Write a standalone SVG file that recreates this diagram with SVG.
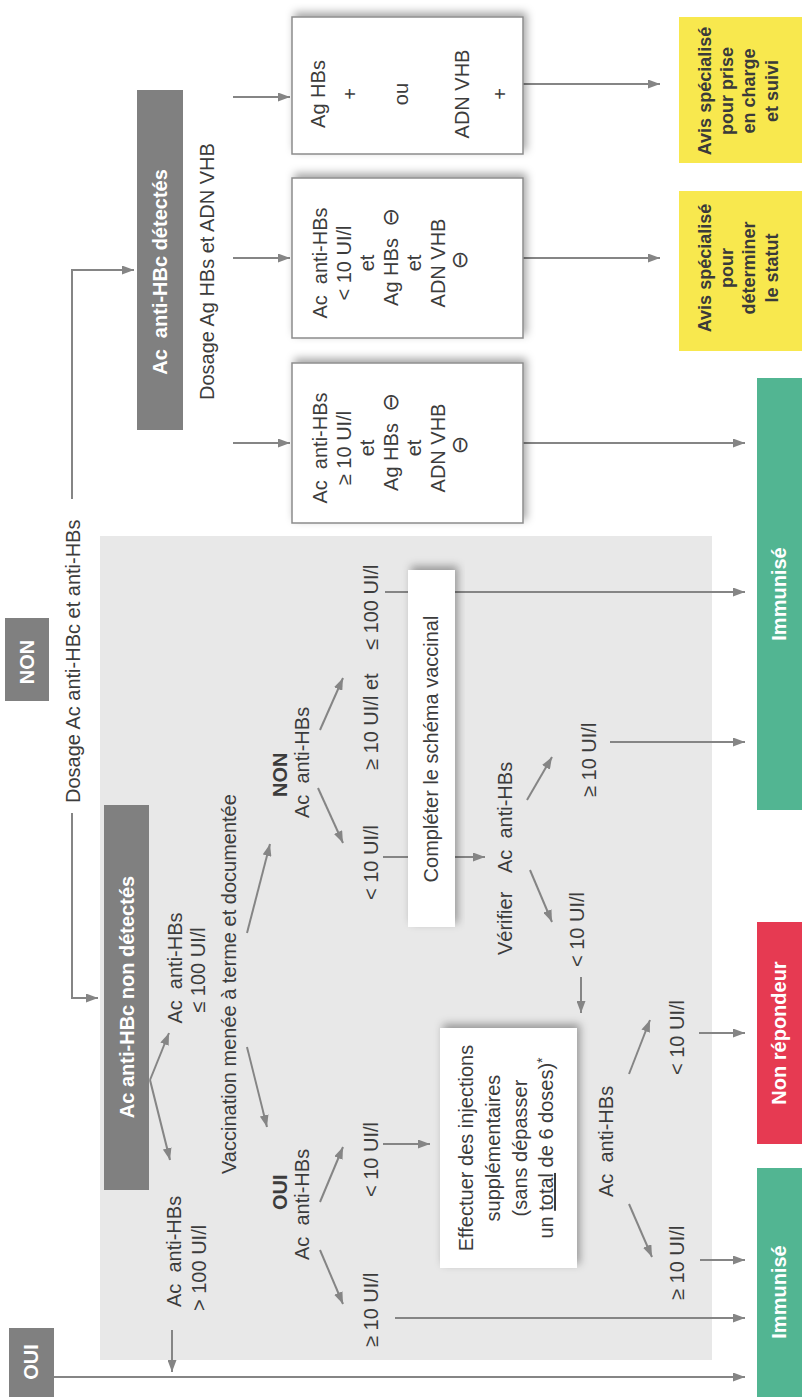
<svg xmlns="http://www.w3.org/2000/svg" width="802" height="1397" viewBox="0 0 802 1397">
<defs>
<style>
.t{font-family:"Liberation Sans",Arial,sans-serif;font-size:20px;fill:#3c3c3c}
.m{text-anchor:middle}
.b{font-weight:bold}
.w{fill:#fff;font-weight:bold}
.y{font-family:"Liberation Sans",Arial,sans-serif;font-weight:bold;font-size:18px;fill:#3a3a3a;text-anchor:middle}
.ln{stroke:#858585;stroke-width:2;fill:none}
.a{marker-end:url(#ah)}
.dk{fill:#808080}
.wb{fill:#fff;stroke:#8c8c8c;stroke-width:1.5}
.wp{fill:#fff}
.sym{font-family:"DejaVu Sans",sans-serif;font-size:22px}
.gr{fill:#52b592}
.rd{fill:#e63a52}
.yl{fill:#f8e84e}
</style>
<marker id="ah" markerUnits="userSpaceOnUse" markerWidth="12" markerHeight="9" refX="12" refY="4.5" orient="auto"><path d="M0,0 L12,4.5 L0,9 z" fill="#858585"/></marker>
<filter id="sh" x="-20%" y="-20%" width="140%" height="140%"><feDropShadow dx="4" dy="3" stdDeviation="4" flood-color="#000" flood-opacity="0.35"/></filter>
</defs>
<rect width="802" height="1397" fill="#fff"/>
<g transform="translate(0,1397) rotate(-90)">
<rect id="panel" x="37" y="100" width="824" height="612" fill="#e8e8e8"/>
<g id="connectors">
<path class="ln a" d="M584 72 H399 V98"/>
<path class="ln a" d="M898 72 H1127 V134"/>
<path class="ln a" d="M20 54 V745"/>
<path class="ln a" d="M1300 233 V290"/>
<path class="ln a" d="M1139 233 V290"/>
<path class="ln a" d="M954 233 V290"/>
<path class="ln a" d="M1313 523 V660"/>
<path class="ln a" d="M1139 523 V660"/>
<path class="ln a" d="M954 523 V745"/>
<path class="ln a" d="M805 385 V745"/>
<path class="ln a" d="M655 610 V745"/>
<path class="ln a" d="M364 699 V745"/>
<path class="ln a" d="M137 700 V745"/>
<path class="ln a" d="M79 395 V745"/>
<path class="ln a" d="M67 172 H25"/>
<path class="ln a" d="M317 150 L237 170"/>
<path class="ln a" d="M317 150 L364 169"/>
<path class="ln a" d="M350 247 L270 267"/>
<path class="ln a" d="M464 247 L553 270"/>
<path class="ln a" d="M147 320 L93 343"/>
<path class="ln a" d="M195 320 L250 343"/>
<path class="ln a" d="M253 383 V430"/>
<path class="ln a" d="M609 318 L554 343"/>
<path class="ln a" d="M667 320 L719 343"/>
<path class="ln a" d="M540 383 V485"/>
<path class="ln a" d="M597 527 L640 552"/>
<path class="ln a" d="M527 530 L475 552"/>
<path class="ln a" d="M420 581 H384"/>
<path class="ln a" d="M193 629 L140 652"/>
<path class="ln a" d="M323 629 L377 650"/>
</g>
<g id="n-oui"><rect class="dk" x="-10" y="9" width="79" height="45"/><text class="t m w" x="35" y="38">OUI</text></g>
<g id="n-non"><rect class="dk" x="696" y="5" width="83" height="44"/><text class="t m w" x="735" y="34">NON</text></g>
<g id="l-dosage1"><text class="t" x="594" y="80">Dosage Ac anti-HBc et anti-HBs</text></g>
<g id="n-nondet"><rect class="dk" x="207" y="104" width="385" height="45"/><text class="t m w" x="400" y="134">Ac anti-HBc non détectés</text></g>
<g id="n-det"><rect class="dk" x="967" y="137" width="340" height="46"/><text class="t m w" x="1125" y="167" xml:space="preserve">Ac  anti-HBc détectés</text></g>
<g id="l-dosage2"><text class="t" x="997" y="214">Dosage Ag HBs et ADN VHB</text></g>
<g id="n-box1"><rect class="wb" filter="url(#sh)" x="1243" y="292" width="137" height="231"/>
<text class="t m" x="1303" y="325">Ag HBs</text><text class="t m" x="1303" y="357">+</text><text class="t m" x="1303" y="408">ou</text><text class="t m" x="1303" y="469">ADN VHB</text><text class="t m" x="1303" y="507">+</text></g>
<g id="n-box2"><rect class="wb" filter="url(#sh)" x="1059" y="292" width="160" height="231"/>
<text class="t m" x="1134" y="327" xml:space="preserve">Ac  anti-HBs</text><text class="t m" x="1134" y="351">&lt; 10 UI/l</text><text class="t m" x="1134" y="374">et</text><text class="t m" x="1140" y="398">Ag HBs <tspan class="sym" dx="6">⊖</tspan></text><text class="t m" x="1134" y="421">et</text><text class="t m" x="1134" y="445">ADN VHB</text><text class="t m sym" x="1137" y="467">⊖</text></g>
<g id="n-box3"><rect class="wb" filter="url(#sh)" x="874" y="292" width="160" height="231"/>
<text class="t m" x="949" y="327" xml:space="preserve">Ac  anti-HBs</text><text class="t m" x="949" y="351">≥ 10 UI/l</text><text class="t m" x="949" y="374">et</text><text class="t m" x="955" y="398">Ag HBs <tspan class="sym" dx="6">⊖</tspan></text><text class="t m" x="949" y="421">et</text><text class="t m" x="949" y="445">ADN VHB</text><text class="t m sym" x="952" y="467">⊖</text></g>
<g id="n-avis1"><rect class="yl" x="1234" y="679" width="146" height="123"/>
<text class="y" x="1306" y="711">Avis spécialisé</text><text class="y" x="1306" y="733">pour prise</text><text class="y" x="1306" y="755">en charge</text><text class="y" x="1306" y="778">et suivi</text></g>
<g id="n-avis2"><rect class="yl" x="1046" y="679" width="160" height="123"/>
<text class="y" x="1129" y="711">Avis spécialisé</text><text class="y" x="1129" y="733">pour</text><text class="y" x="1129" y="755">déterminer</text><text class="y" x="1129" y="778">le statut</text></g>
<g id="n-imm1"><rect class="gr" x="-10" y="757" width="239" height="45"/><text class="t m w" x="105" y="786">Immunisé</text></g>
<g id="n-nonrep"><rect class="rd" x="253" y="757" width="222" height="45"/><text class="t m w" x="364" y="786">Non répondeur</text></g>
<g id="n-imm2"><rect class="gr" x="587" y="757" width="432" height="45"/><text class="t m w" x="803" y="786">Immunisé</text></g>
<g id="l-gt100"><text class="t" x="90" y="181" xml:space="preserve">Ac  anti-HBs</text><text class="t" x="86" y="206">&gt; 100 UI/l</text></g>
<g id="l-le100"><text class="t m" x="429" y="182" xml:space="preserve">Ac  anti-HBs</text><text class="t m" x="427" y="205">≤ 100 UI/l</text></g>
<g id="l-vacc"><text class="t" x="223" y="236">Vaccination menée à terme et documentée</text></g>
<g id="l-oui"><text class="t b" x="187" y="287">OUI</text><text class="t" x="137" y="309" xml:space="preserve">Ac  anti-HBs</text></g>
<g id="l-non"><text class="t b" x="600" y="287">NON</text><text class="t" x="579" y="309" xml:space="preserve">Ac  anti-HBs</text></g>
<g id="l-oui-ge10"><text class="t" x="50" y="378">≥ 10 UI/l</text></g>
<g id="l-oui-lt10"><text class="t" x="200" y="378">&lt; 10 UI/l</text></g>
<g id="l-non-lt10"><text class="t" x="497" y="378">&lt; 10 UI/l</text></g>
<g id="l-non-ge10"><text class="t" x="627" y="378">≥ 10 UI/l et</text><text class="t" x="747" y="378">≤ 100 UI/l</text></g>
<g id="n-completer"><rect class="wp" filter="url(#sh)" x="470" y="408" width="357" height="47"/><text class="t m" x="648" y="438">Compléter le schéma vaccinal</text></g>
<g id="n-effectuer"><rect class="wp" filter="url(#sh)" x="129" y="440" width="240" height="137"/>
<text class="t m" x="249" y="473">Effectuer des injections</text><text class="t m" x="249" y="500">supplémentaires</text><text class="t m" x="249" y="527">(sans dépasser</text><text class="t m" x="249" y="553">un <tspan text-decoration="underline">total</tspan> de 6 doses)<tspan font-size="14" dy="-6">*</tspan></text></g>
<g id="l-verifier"><text class="t" x="442" y="512">Vérifier</text><text class="t" x="524" y="512" xml:space="preserve">Ac  anti-HBs</text></g>
<g id="l-ver-ge10"><text class="t" x="600" y="596">≥ 10 UI/l</text></g>
<g id="l-ver-lt10"><text class="t" x="430" y="584">&lt; 10 UI/l</text></g>
<g id="l-eff-ac"><text class="t" x="200" y="613" xml:space="preserve">Ac  anti-HBs</text></g>
<g id="l-eff-ge10"><text class="t" x="97" y="684">≥ 10 UI/l</text></g>
<g id="l-eff-lt10"><text class="t" x="322" y="684">&lt; 10 UI/l</text></g>
</g>
</svg>
